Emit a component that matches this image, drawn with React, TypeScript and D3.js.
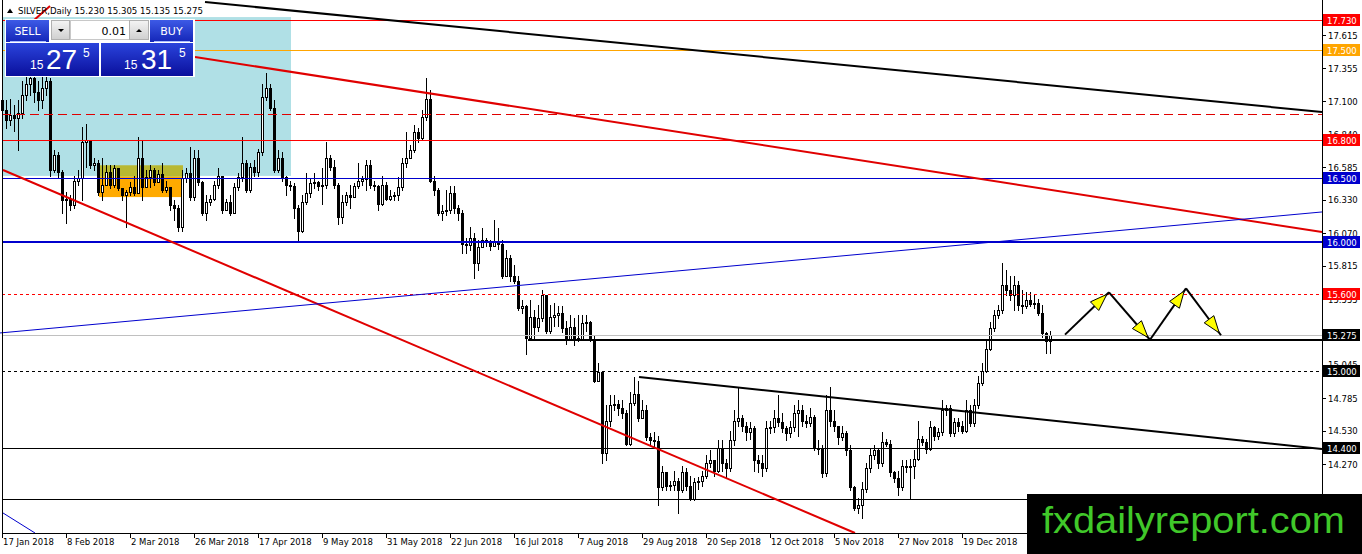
import * as d3 from "d3";

// Daily SILVER candles, one per weekday from 17 Jan 2018 (open = previous close)
const firstOpen = 17.11;
const closes = [
  17.03, 16.95, 16.99, 16.97, 17.01, 17.15, 17.23, 17.28, 17.17, 17.11, 17.2, 17.26, 16.56, 16.68, 16.55, 16.33,
  16.34, 16.29, 16.48, 16.5, 16.78, 16.8, 16.6, 16.62, 16.39, 16.45, 16.55, 16.45, 16.58, 16.42, 16.37, 16.39,
  16.43, 16.38, 16.66, 16.43, 16.51, 16.56, 16.47, 16.53, 16.41, 16.43, 16.29, 16.27, 16.12, 16.5, 16.54, 16.35,
  16.66, 16.47, 16.23, 16.31, 16.34, 16.45, 16.52, 16.25, 16.31, 16.23, 16.43, 16.51, 16.62, 16.41, 16.59, 16.55,
  16.7, 17.13, 17.2, 17.05, 16.56, 16.66, 16.51, 16.45, 16.44, 16.27, 16.09, 16.31, 16.38, 16.46, 16.47, 16.44,
  16.45, 16.66, 16.59, 16.45, 16.2, 16.31, 16.37, 16.35, 16.44, 16.48, 16.49, 16.6, 16.45, 16.44, 16.3, 16.45,
  16.34, 16.36, 16.37, 16.43, 16.62, 16.66, 16.72, 16.86, 16.81, 16.98, 17.12, 16.48, 16.41, 16.23, 16.24, 16.25,
  16.38, 16.27, 16.23, 15.99, 15.98, 16.03, 15.84, 15.96, 16.02, 16.0, 15.97, 16.01, 15.99, 15.74, 15.88, 15.74,
  15.7, 15.49, 15.5, 15.25, 15.42, 15.34, 15.41, 15.59, 15.31, 15.42, 15.43, 15.45, 15.33, 15.24, 15.34, 15.25,
  15.24, 15.37, 15.38, 15.24, 14.92, 14.99, 14.36, 14.61, 14.73, 14.74, 14.71, 14.67, 14.43, 14.75, 14.82, 14.63,
  14.69, 14.48, 14.46, 14.45, 14.09, 14.21, 14.1, 14.11, 14.14, 14.07, 14.21, 14.1, 14.0, 14.13, 14.14, 14.18,
  14.28, 14.3, 14.22, 14.4, 14.28, 14.24, 14.46, 14.61, 14.63, 14.57, 14.52, 14.55, 14.3, 14.28, 14.24, 14.55,
  14.56, 14.63, 14.6, 14.55, 14.51, 14.56, 14.67, 14.69, 14.61, 14.59, 14.64, 14.4, 14.39, 14.2, 14.69, 14.61,
  14.57, 14.48, 14.51, 14.38, 14.09, 13.93, 13.95, 14.08, 14.24, 14.34, 14.38, 14.28, 14.44, 14.43, 14.21, 14.16,
  14.09, 14.26, 14.25, 14.26, 14.31, 14.47, 14.44, 14.39, 14.56, 14.49, 14.52, 14.69, 14.71, 14.51, 14.6, 14.57,
  14.53, 14.69, 14.59, 14.73, 14.9, 15.0, 15.17, 15.33, 15.43, 15.47, 15.67, 15.63, 15.59, 15.67, 15.51, 15.5,
  15.55, 15.52, 15.53, 15.45, 15.29, 15.23, 15.275,
];
const highs = [
  17.23, 17.11, 17.12, 17.07, 17.11, 17.26, 17.3, 17.38, 17.3, 17.26, 17.3, 17.34, 17.28, 16.72, 16.7, 16.56,
  16.39, 16.37, 16.52, 16.56, 16.9, 16.92, 16.8, 16.66, 16.64, 16.66, 16.6, 16.6, 16.6, 16.56, 16.42, 16.41,
  16.47, 16.52, 16.82, 16.8, 16.56, 16.6, 16.58, 16.56, 16.62, 16.48, 16.37, 16.33, 16.29, 16.56, 16.58, 16.74,
  16.72, 16.72, 16.48, 16.37, 16.37, 16.48, 16.58, 16.52, 16.34, 16.37, 16.46, 16.54, 16.82, 16.64, 16.62, 16.64,
  16.73, 17.23, 17.32, 17.23, 17.11, 16.72, 16.7, 16.52, 16.48, 16.46, 16.29, 16.37, 16.54, 16.5, 16.54, 16.48,
  16.58, 16.78, 16.68, 16.64, 16.46, 16.37, 16.39, 16.45, 16.46, 16.62, 16.52, 16.64, 16.64, 16.48, 16.45, 16.52,
  16.47, 16.41, 16.39, 16.51, 16.66, 16.86, 16.76, 16.91, 16.89, 17.03, 17.28, 17.19, 16.52, 16.42, 16.29, 16.41,
  16.44, 16.44, 16.29, 16.25, 16.03, 16.12, 16.07, 16.02, 16.11, 16.03, 16.02, 16.17, 16.11, 16.02, 15.94, 15.9,
  15.82, 15.74, 15.55, 15.51, 15.55, 15.47, 15.51, 15.63, 15.56, 15.51, 15.53, 15.5, 15.5, 15.39, 15.43, 15.41,
  15.43, 15.43, 15.43, 15.39, 15.27, 15.06, 15.0, 14.73, 14.81, 14.81, 14.77, 14.77, 14.69, 14.83, 14.95, 14.92,
  14.77, 14.73, 14.51, 14.52, 14.49, 14.26, 14.18, 14.14, 14.22, 14.16, 14.26, 14.24, 14.18, 14.16, 14.17, 14.22,
  14.34, 14.38, 14.3, 14.46, 14.46, 14.31, 14.53, 14.69, 14.87, 14.65, 14.6, 14.6, 14.57, 14.34, 14.34, 14.61,
  14.61, 14.69, 14.81, 14.67, 14.57, 14.61, 14.73, 14.77, 14.73, 14.65, 14.71, 14.65, 14.46, 14.42, 14.81, 14.87,
  14.69, 14.57, 14.57, 14.53, 14.42, 14.1, 14.01, 14.13, 14.28, 14.39, 14.42, 14.4, 14.52, 14.47, 14.46, 14.22,
  14.22, 14.3, 14.3, 14.31, 14.38, 14.61, 14.49, 14.47, 14.61, 14.57, 14.55, 14.77, 14.73, 14.73, 14.63, 14.63,
  14.61, 14.77, 14.73, 14.78, 14.96, 15.06, 15.24, 15.38, 15.47, 15.51, 15.84, 15.78, 15.74, 15.74, 15.7, 15.63,
  15.61, 15.61, 15.59, 15.56, 15.51, 15.3, 15.305,
];
const lows = [
  16.91, 16.89, 16.91, 16.87, 16.72, 16.97, 17.11, 17.15, 17.09, 17.03, 17.05, 17.15, 16.52, 16.55, 16.5, 16.23,
  16.15, 16.25, 16.27, 16.45, 16.33, 16.59, 16.58, 16.56, 16.37, 16.33, 16.47, 16.42, 16.43, 16.41, 16.33, 16.12,
  16.37, 16.37, 16.43, 16.33, 16.45, 16.43, 16.45, 16.47, 16.39, 16.39, 16.25, 16.17, 16.09, 16.09, 16.47, 16.33,
  16.33, 16.45, 16.21, 16.17, 16.29, 16.33, 16.42, 16.23, 16.25, 16.21, 16.23, 16.41, 16.48, 16.39, 16.39, 16.52,
  16.52, 16.68, 17.11, 17.03, 16.55, 16.55, 16.48, 16.37, 16.41, 16.19, 16.0, 16.08, 16.3, 16.35, 16.42, 16.41,
  16.3, 16.42, 16.56, 16.42, 16.14, 16.15, 16.29, 16.27, 16.39, 16.42, 16.45, 16.41, 16.42, 16.41, 16.25, 16.29,
  16.33, 16.33, 16.33, 16.33, 16.41, 16.59, 16.66, 16.7, 16.78, 16.8, 16.95, 16.47, 16.37, 16.21, 16.17, 16.21,
  16.23, 16.23, 16.17, 15.92, 15.92, 15.94, 15.72, 15.78, 15.96, 15.97, 15.94, 15.97, 15.95, 15.72, 15.74, 15.7,
  15.68, 15.47, 15.45, 15.13, 15.24, 15.24, 15.31, 15.39, 15.29, 15.29, 15.35, 15.35, 15.3, 15.21, 15.24, 15.2,
  15.23, 15.24, 15.31, 15.23, 14.91, 14.92, 14.28, 14.3, 14.57, 14.69, 14.65, 14.63, 14.42, 14.42, 14.73, 14.61,
  14.63, 14.46, 14.42, 14.4, 13.95, 14.07, 14.07, 14.07, 14.07, 13.89, 14.05, 14.07, 13.99, 13.99, 14.08, 14.1,
  14.16, 14.25, 14.18, 14.21, 14.22, 14.16, 14.22, 14.42, 14.57, 14.53, 14.46, 14.47, 14.22, 14.21, 14.18, 14.22,
  14.51, 14.52, 14.57, 14.52, 14.46, 14.48, 14.53, 14.49, 14.57, 14.56, 14.57, 14.38, 14.35, 14.17, 14.18, 14.57,
  14.53, 14.43, 14.46, 14.34, 14.07, 13.91, 13.89, 13.85, 14.05, 14.21, 14.31, 14.24, 14.26, 14.41, 14.18, 14.13,
  14.03, 14.07, 14.21, 14.0, 14.16, 14.3, 14.42, 14.36, 14.38, 14.46, 14.47, 14.5, 14.65, 14.49, 14.49, 14.53,
  14.51, 14.52, 14.57, 14.57, 14.71, 14.89, 14.99, 15.16, 15.31, 15.41, 15.45, 15.59, 15.55, 15.47, 15.47, 15.45,
  15.49, 15.5, 15.49, 15.43, 15.26, 15.14, 15.135,
];

// x-axis labels, one every 16 bars
const dateLabels = [
  "17 Jan 2018", "8 Feb 2018", "2 Mar 2018", "26 Mar 2018", "17 Apr 2018", "9 May 2018", "31 May 2018",
  "22 Jun 2018", "16 Jul 2018", "7 Aug 2018", "29 Aug 2018", "20 Sep 2018", "12 Oct 2018", "5 Nov 2018",
  "27 Nov 2018", "19 Dec 2018",
];
const labelStep = 16;

const priceTicks = [17.615, 17.355, 17.1, 16.84, 16.585, 16.33, 16.07, 15.815, 15.555, 15.045, 14.785, 14.53, 14.27];

// horizontal levels with a price tag on the axis
const taggedLevels = [17.73, 17.5, 16.8, 16.5, 16.0, 15.6, 15.275, 15.0, 14.4];
// horizontal levels without tag
const plainLevels = [17.0, 14.0];
const supportLevel = { from: 131.25, price: 15.24 };

// trend lines as [barIndex, price] pairs
const trendLines = [
  [[50.5, 17.872], [329.75, 17.015]],
  [[48, 17.444], [329.75, 16.08]],
  [[0, 16.563], [213, 13.734]],
  [[-0.75, 15.293], [329.75, 16.236]],
  [[0, 13.89], [8, 13.734]],
  [[159, 14.95], [329.75, 14.388]],
  [[7.5, 17.724], [11.75, 17.841]],
];

// projected zigzag
const zigzag = [[265.5, 15.28], [276.5, 15.61], [286.75, 15.24], [295.75, 15.64], [304.5, 15.275]];

// zones: [barStart, barEnd, priceTop, priceBottom]
const blueZone = [0, 72, 17.755, 16.517];
const oliveZone = [24, 45, 16.6, 16.51];
const orangeZone = [24, 45, 16.51, 16.352];

const W = 1362;
const H = 554;
const PR = 1322; // right edge of plot
const PB = 533; // bottom edge of plot

const x = d3.scaleLinear().domain([0, 330]).range([3, 1323]);
const y = d3.scaleLinear().domain([13.734, 17.888]).range([PB, 0]);

const axisFont = "'DejaVu Sans', Tahoma, sans-serif";

const levelStyle: Record<string, { color: string; width: number; dash?: string; tag: string }> = {
  "17.73": { color: "#ff0000", width: 1, tag: "#ff0000" },
  "17.5": { color: "#ffa500", width: 1, tag: "#ffa500" },
  "16.8": { color: "#ff0000", width: 1, tag: "#ff0000" },
  "16.5": { color: "#0000cd", width: 1, tag: "#0000cd" },
  "16": { color: "#0000cd", width: 2, tag: "#0000cd" },
  "15.6": { color: "#ff0000", width: 1, dash: "3,3", tag: "#ff0000" },
  "15.275": { color: "#c0c0c0", width: 1, tag: "#000000" },
  "15": { color: "#000000", width: 1, dash: "3,3", tag: "#000000" },
  "14.4": { color: "#000000", width: 1, tag: "#000000" },
};

const trendStyle = [
  { color: "#000", width: 2 },
  { color: "#e00000", width: 2 },
  { color: "#e00000", width: 2 },
  { color: "#0000cd", width: 1 },
  { color: "#0000cd", width: 1 },
  { color: "#000", width: 2 },
  { color: "#e00000", width: 2 },
];

const py = (p: number) => Math.round(y(p)) + 0.5;

function Arrow({ a, b }: { a: number[]; b: number[] }) {
  const x1 = x(a[0]), y1 = y(a[1]), x2 = x(b[0]), y2 = y(b[1]);
  const dx = x2 - x1, dy = y2 - y1;
  const len = Math.hypot(dx, dy);
  const ux = dx / len, uy = dy / len;
  const tx = x2 - ux * 3, ty = y2 - uy * 3;
  const bx = tx - ux * 17, by = ty - uy * 17;
  const nx = -uy * 6, ny = ux * 6;
  return (
    <g>
      <line x1={x1} y1={y1} x2={x2} y2={y2} stroke="#000" strokeWidth={2} />
      <polygon
        points={`${tx},${ty} ${bx + nx},${by + ny} ${bx - nx},${by - ny}`}
        fill="#ffff00"
        stroke="#000"
        strokeWidth={1}
      />
    </g>
  );
}

function Zone({ z, fill }: { z: number[]; fill: string }) {
  return <rect x={x(z[0])} y={y(z[2])} width={x(z[1]) - x(z[0])} height={y(z[3]) - y(z[2])} fill={fill} />;
}

export default function App() {
  return (
    <div style={{ position: "absolute", left: 0, top: 0, width: W, height: H, overflow: "hidden", background: "#fff" }}>
      <svg width={W} height={H} style={{ display: "block" }}>
        <defs>
          <linearGradient id="btn" x1="0" y1="0" x2="0" y2="1">
            <stop offset="0" stopColor="#3d5ae6" />
            <stop offset="1" stopColor="#1426b8" />
          </linearGradient>
          <linearGradient id="pbox" x1="0" y1="0" x2="0" y2="1">
            <stop offset="0" stopColor="#2a44dc" />
            <stop offset="1" stopColor="#0a0f9c" />
          </linearGradient>
          <linearGradient id="gray" x1="0" y1="0" x2="0" y2="1">
            <stop offset="0" stopColor="#f4f4f4" />
            <stop offset="1" stopColor="#cfcfcf" />
          </linearGradient>
        </defs>
        <rect width={W} height={H} fill="#fff" />

        {/* background zones */}
        <Zone z={blueZone} fill="#b0e0e6" />
        <Zone z={oliveZone} fill="#b8b832" />
        <Zone z={orangeZone} fill="#ffaa00" />

        {/* candles */}
        {closes.map((c, i) => {
          const o = i === 0 ? firstOpen : closes[i - 1];
          const hi = Math.max(highs[i], o, c);
          const lo = Math.min(lows[i], o, c);
          const cx = Math.round(x(i));
          const yTop = Math.round(y(Math.max(o, c)));
          const yBot = Math.round(y(Math.min(o, c)));
          const bull = c >= o;
          return (
            <g key={i}>
              <line x1={cx - 0.5} x2={cx - 0.5} y1={Math.round(y(hi))} y2={Math.round(y(lo)) + 1} stroke="#000" />
              {yBot - yTop < 1 ? (
                <line x1={cx - 2} x2={cx + 1} y1={yTop + 0.5} y2={yTop + 0.5} stroke="#000" />
              ) : (
                <rect x={cx - 1.5} y={yTop + 0.5} width={2} height={yBot - yTop} fill={bull ? "#fff" : "#000"} stroke="#000" />
              )}
            </g>
          );
        })}

        {/* horizontal levels */}
        {plainLevels.map((p, i) => (
          <line
            key={"pl" + i}
            x1={2}
            x2={PR}
            y1={py(p)}
            y2={py(p)}
            stroke={i === 0 ? "#e00000" : "#000"}
            strokeDasharray={i === 0 ? "9,5" : undefined}
          />
        ))}
        {taggedLevels.map((p) => {
          const s = levelStyle[String(p)];
          return (
            <line
              key={"tl" + p}
              x1={2}
              x2={PR}
              y1={s.width === 2 ? Math.round(y(p)) : py(p)}
              y2={s.width === 2 ? Math.round(y(p)) : py(p)}
              stroke={s.color}
              strokeWidth={s.width}
              strokeDasharray={s.dash}
            />
          );
        })}
        <line
          x1={x(supportLevel.from)}
          x2={PR}
          y1={Math.round(y(supportLevel.price))}
          y2={Math.round(y(supportLevel.price))}
          stroke="#000"
          strokeWidth={2}
        />

        {/* trend lines */}
        {trendLines.map((l, i) => (
          <line
            key={"tr" + i}
            x1={x(l[0][0])}
            y1={y(l[0][1])}
            x2={x(l[1][0])}
            y2={y(l[1][1])}
            stroke={trendStyle[i].color}
            strokeWidth={trendStyle[i].width}
          />
        ))}

        {/* projected zigzag */}
        {zigzag.slice(1).map((b, i) => (
          <Arrow key={"ar" + i} a={zigzag[i]} b={b} />
        ))}

        {/* axes */}
        <rect x={PR} y={0} width={W - PR} height={H} fill="#fff" />
        <rect x={0} y={PB} width={W} height={H - PB} fill="#fff" />
        <line x1={2.5} x2={2.5} y1={0} y2={PB} stroke="#000" />
        <line x1={PR + 0.5} x2={PR + 0.5} y1={0} y2={PB + 1} stroke="#000" />
        <line x1={2} x2={PR + 1} y1={PB + 0.5} y2={PB + 0.5} stroke="#000" />

        {priceTicks.map((p) => (
          <g key={"yt" + p}>
            <line x1={PR} x2={PR + 4} y1={py(p)} y2={py(p)} stroke="#000" />
            <text x={PR + 6} y={y(p) + 3.5} fontSize={8.5} fontFamily={axisFont} fill="#000">
              {p.toFixed(3)}
            </text>
          </g>
        ))}

        {dateLabels.map((d, k) => {
          const tx = Math.round(x(k * labelStep));
          return (
            <g key={"xt" + k}>
              <line x1={tx - 0.5} x2={tx - 0.5} y1={PB} y2={PB + 5} stroke="#000" />
              <text x={tx} y={545} fontSize={8.5} fontFamily={axisFont} fill="#000">
                {d}
              </text>
            </g>
          );
        })}

        {taggedLevels.map((p) => {
          const s = levelStyle[String(p)];
          const yy = Math.round(y(p));
          return (
            <g key={"tag" + p}>
              <rect x={PR + 1} y={yy - 6} width={37} height={12} fill={s.tag} />
              <text x={PR + 5} y={yy + 4} fontSize={8.5} fontFamily={axisFont} fill="#fff">
                {p.toFixed(3)}
              </text>
            </g>
          );
        })}

        {/* header */}
        <path d="M7,13 L10,8.5 L13,13 Z" fill="#000" />
        <text x={18} y={14} fontSize={8.5} fontFamily={axisFont} fill="#000" textLength={185} lengthAdjust="spacingAndGlyphs">
          SILVER,Daily  15.230 15.305 15.135 15.275
        </text>

        {/* one-click trading panel */}
        <g fontFamily={axisFont}>
          <rect x={5} y={19} width={190} height={58} fill="#fff" />
          <rect x={6} y={20} width={43} height={22} fill="url(#btn)" />
          <text x={27.5} y={35} textAnchor="middle" fontSize={11} fill="#fff">SELL</text>
          <line x1={10} x2={46} y1={41.5} y2={41.5} stroke="#a9bcff" />
          <rect x={51.5} y={20.5} width={18} height={19} fill="url(#gray)" stroke="#b0b0b0" />
          <path d="M58,29 L64,29 L61,32 Z" fill="#000" />
          <rect x={70.5} y={20.5} width={59} height={19} fill="#fff" stroke="#c8c8c8" />
          <text x={126} y={35} textAnchor="end" fontSize={11} fill="#000">0.01</text>
          <rect x={129.5} y={20.5} width={19} height={19} fill="url(#gray)" stroke="#b0b0b0" />
          <path d="M136,32 L142,32 L139,29 Z" fill="#000" />
          <rect x={150} y={20} width={43} height={22} fill="url(#btn)" />
          <text x={171.5} y={35} textAnchor="middle" fontSize={11} fill="#fff">BUY</text>
          <line x1={154} x2={190} y1={41.5} y2={41.5} stroke="#a9bcff" />

          <rect x={6} y={43} width={93} height={33} fill="url(#pbox)" />
          <rect x={101} y={43} width={92} height={33} fill="url(#pbox)" />
          <g fill="#fff" fontFamily="'Liberation Sans', Arial, sans-serif">
            <text x={30} y={69} fontSize={12}>15</text>
            <text x={46} y={69} fontSize={28}>27</text>
            <text x={83} y={57} fontSize={12}>5</text>
            <text x={124} y={69} fontSize={12}>15</text>
            <text x={141} y={69} fontSize={28}>31</text>
            <text x={179} y={57} fontSize={12}>5</text>
          </g>
        </g>

        {/* watermark */}
        <rect x={1027} y={494} width={W - 1027} height={H - 494} fill="#000" />
        <text
          x={1042}
          y={533}
          fontSize={37}
          fontFamily="'Liberation Sans', Arial, sans-serif"
          fill="#40c82a"
          textLength={303}
          lengthAdjust="spacingAndGlyphs"
        >
          fxdailyreport.com
        </text>
      </svg>
    </div>
  );
}
